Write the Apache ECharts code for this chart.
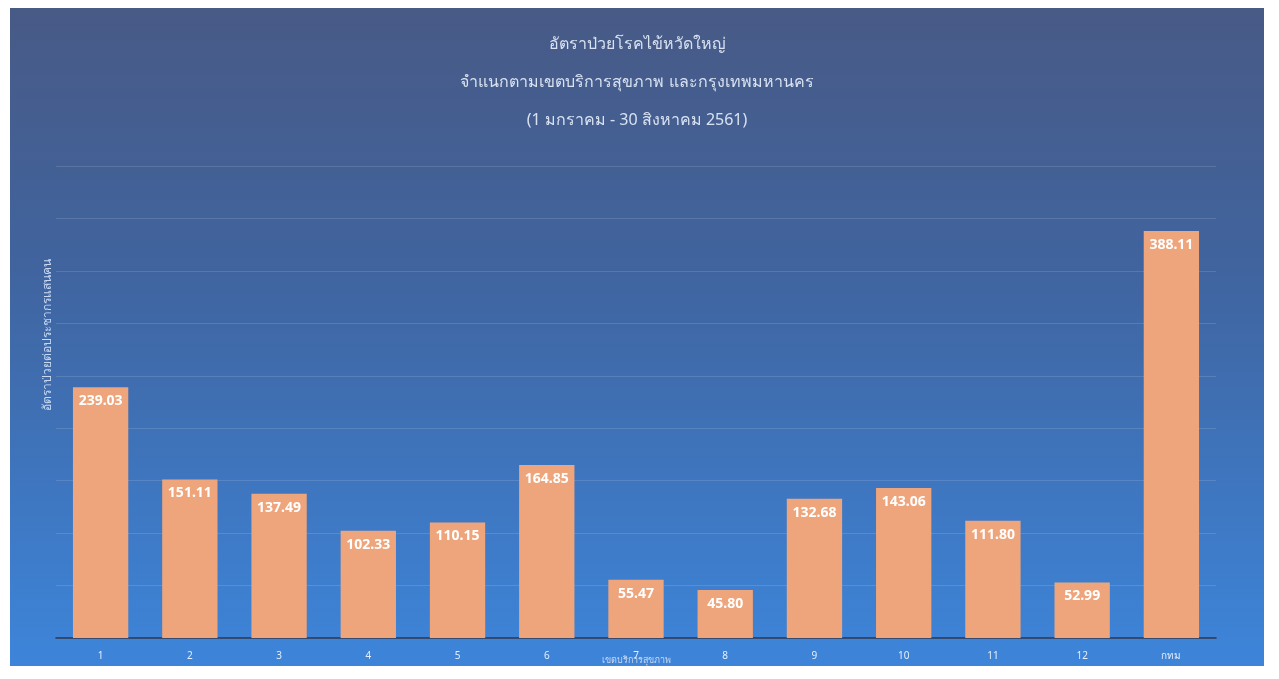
<!DOCTYPE html>
<html><head><meta charset="utf-8">
<script src="https://cdn.jsdelivr.net/npm/echarts@6/dist/echarts.min.js"></script>
<style>html,body{margin:0;padding:0;background:#fff;}#c{position:absolute;left:10px;top:8px;width:1254px;height:658px;}</style>
</head><body><div id="c"></div>
<script>
const categories = ['1','2','3','4','5','6','7','8','9','10','11','12','กทม'];
const rates = [239.03,151.11,137.49,102.33,110.15,164.85,55.47,45.80,132.68,143.06,111.80,52.99,388.11];
const titleLines = ['อัตราป่วยโรคไข้หวัดใหญ่','จำแนกตามเขตบริการสุขภาพ และกรุงเทพมหานคร','(1 มกราคม - 30 สิงหาคม 2561)'];
const yName = 'อัตราป่วยต่อประชากรแสนคน';
const xName = 'เขตบริการสุขภาพ';
const FF = "'Noto Sans', 'DejaVu Sans', sans-serif";
const chart = echarts.init(document.getElementById('c'));
chart.setOption({
  backgroundColor: {type:'linear',x:0,y:0,x2:0,y2:1,colorStops:[
    {offset:0,color:'#485a86'},{offset:0.4,color:'#40649f'},{offset:1,color:'#3d85da'}]},
  title: {text: titleLines.join('\n'), left: 'center', top: 12,
    textStyle:{color:'#d9e2f1', fontSize:16, fontWeight:'normal', lineHeight:38, fontFamily:FF}},
  grid: {left: 46, right: 48, top: 158, bottom: 28, outerBoundsMode:'none', containLabel:false},
  xAxis: {type:'category', data: categories, name: xName, nameLocation:'middle', nameGap: 18, nameMoveOverlap:false,
    nameTextStyle:{color:'#c9d9f2', fontSize:9, fontFamily:FF},
    axisLine:{lineStyle:{color:'#2b3550', width:1.5}}, axisTick:{show:false},
    axisLabel:{color:'#e6eefb', fontSize:10, margin:13, fontFamily:FF}},
  yAxis: {type:'value', min:0, max:450, interval:50, name: yName, nameLocation:'middle', nameGap: 2, nameMoveOverlap:false,
    nameTextStyle:{color:'#c9d9f2', fontSize:12, fontFamily:FF, padding:[0,0,0,134]},
    axisLabel:{show:false}, axisLine:{show:false}, axisTick:{show:false},
    splitLine:{lineStyle:{color:'rgba(255,255,255,0.13)', width:1}}},
  series: [{type:'bar', data: rates, barCategoryGap:'38%',
    itemStyle:{color:'#eea57c'},
    label:{show:true, position:'insideTop', distance:7, color:'#ffffff', fontSize:14, fontWeight:'bold', fontFamily:FF,
      formatter: p => p.value.toFixed(2)}}]
});
</script></body></html>
